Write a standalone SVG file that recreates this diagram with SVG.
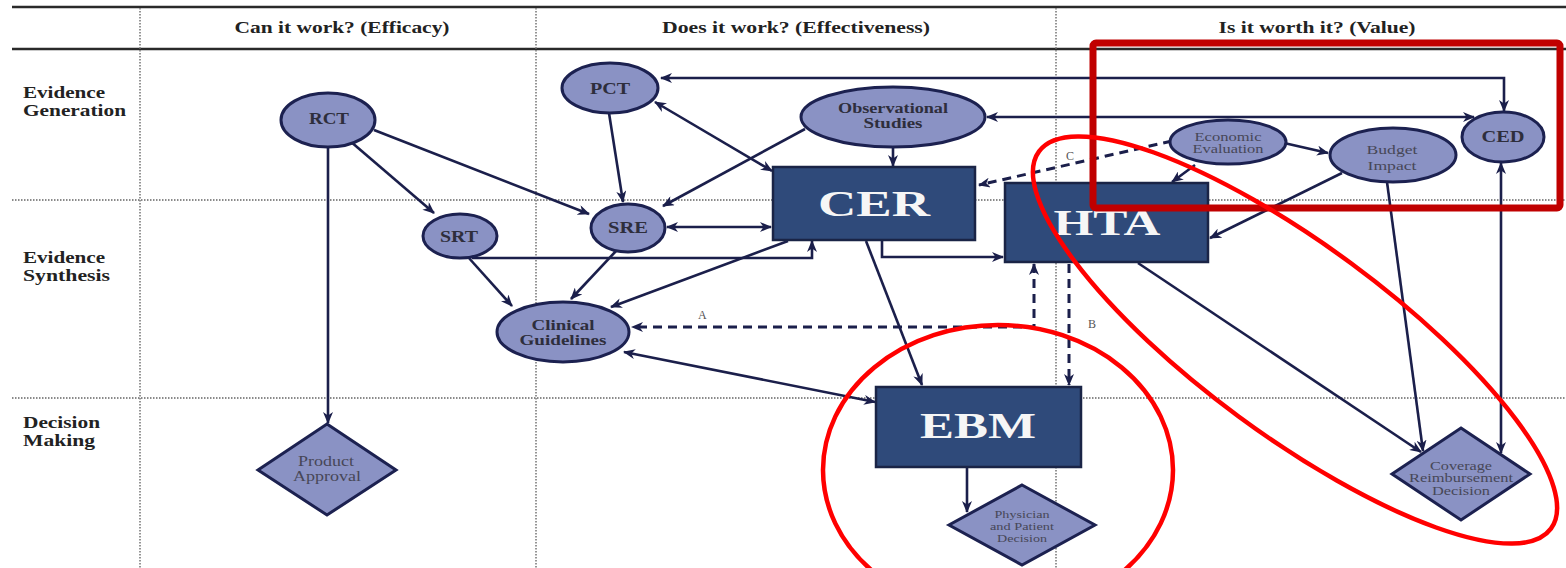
<svg xmlns="http://www.w3.org/2000/svg" width="1566" height="568" viewBox="0 0 1566 568">
<defs>
<marker id="ah" viewBox="0 0 12 10" refX="11" refY="5" markerWidth="13" markerHeight="10" markerUnits="userSpaceOnUse" orient="auto-start-reverse">
<path d="M0,0 L12,5 L0,10 L3.5,5 z" fill="#1b1f4b"/>
</marker>
</defs>
<style>
.grid{stroke:#8a8a8a;stroke-width:1.8;stroke-dasharray:1.5 1.5;fill:none}
.rule{stroke:#2a2a2a;stroke-width:2.5}
.hdr{font-family:"Liberation Serif",serif;font-weight:bold;font-size:16px;fill:#222;text-anchor:middle}
.row{font-family:"Liberation Serif",serif;font-weight:bold;font-size:16px;fill:#222}
.ell{fill:#8a92c4;stroke:#1c2150;stroke-width:3}
.box{fill:#2f4a7a;stroke:#1a2446;stroke-width:2.5}
.dia{fill:#8a92c4;stroke:#1c2150;stroke-width:3}
.t1{font-family:"Liberation Serif",serif;font-weight:bold;font-size:16px;fill:#2e2e3c;text-anchor:middle}
.t2{font-family:"Liberation Serif",serif;font-size:13px;fill:#474757;text-anchor:middle}
.big{font-family:"Liberation Serif",serif;font-weight:bold;font-size:36px;fill:#f6f6f6;text-anchor:middle}
.c{stroke:#1b1f4b;stroke-width:2.6;fill:none;marker-end:url(#ah)}
.cd{marker-start:url(#ah)}
.dash{stroke-dasharray:9 6;stroke-width:3}
.lab{font-family:"Liberation Serif",serif;font-size:12px;fill:#555}
.red{fill:none;stroke:#ff0000;stroke-width:4.5}
.redbox{fill:none;stroke:#c00000;stroke-width:7}
</style>
<rect x="0" y="0" width="1566" height="568" fill="#ffffff"/>
<g id="grid">
<line class="rule" x1="12" y1="7" x2="1566" y2="7"/>
<line class="rule" x1="12" y1="49" x2="1566" y2="49"/>
<line class="grid" x1="140" y1="8" x2="140" y2="568"/>
<line class="grid" x1="536" y1="8" x2="536" y2="568"/>
<line class="grid" x1="1056" y1="8" x2="1056" y2="568"/>
<line class="grid" x1="12" y1="200" x2="1566" y2="200"/>
<line class="grid" x1="12" y1="398" x2="1566" y2="398"/>
<text class="hdr" x="342" y="33" textLength="215" lengthAdjust="spacingAndGlyphs">Can it work? (Efficacy)</text>
<text class="hdr" x="796" y="33" textLength="268" lengthAdjust="spacingAndGlyphs">Does it work? (Effectiveness)</text>
<text class="hdr" x="1317" y="33" textLength="197" lengthAdjust="spacingAndGlyphs">Is it worth it? (Value)</text>
<text class="row" x="23" y="98" textLength="82" lengthAdjust="spacingAndGlyphs">Evidence</text>
<text class="row" x="23" y="116" textLength="103" lengthAdjust="spacingAndGlyphs">Generation</text>
<text class="row" x="23" y="263" textLength="82" lengthAdjust="spacingAndGlyphs">Evidence</text>
<text class="row" x="23" y="281" textLength="87" lengthAdjust="spacingAndGlyphs">Synthesis</text>
<text class="row" x="23" y="428" textLength="77" lengthAdjust="spacingAndGlyphs">Decision</text>
<text class="row" x="23" y="446" textLength="72" lengthAdjust="spacingAndGlyphs">Making</text>
</g>
<g id="connectors">
<path class="c" d="M328,147 L328,423"/>
<path class="c" d="M350,141 L434,213"/>
<path class="c" d="M374,130 L589,214"/>
<path class="c" d="M609,113 L623,202"/>
<path class="c cd" d="M655,102 L772,171"/>
<path class="c" d="M805,129 L663,206"/>
<path class="c" d="M893,147 L893,166"/>
<path class="c cd" d="M667,227 L771,227"/>
<path class="c" d="M472,258 L812,258 L812,241"/>
<path class="c" d="M468,257 L512,306"/>
<path class="c" d="M616,251 L571,299"/>
<path class="c" d="M788,241 L611,307"/>
<path class="c" d="M866,241 L922,385"/>
<path class="c" d="M882,241 L882,257 L1003,257"/>
<path class="c cd dash" d="M1034,264 L1034,327 L632,327"/>
<path class="c dash" d="M1069,264 L1069,385"/>
<path class="c dash" d="M1172,141 L979,185"/>
<path class="c" d="M1195,165 L1172,182"/>
<path class="c" d="M1284,143 L1328,153"/>
<path class="c" d="M1342,173 L1210,238"/>
<path class="c" d="M1387,182 L1423,451"/>
<path class="c" d="M1138,263 L1421,452"/>
<path class="c cd" d="M1501,163 L1501,453"/>
<path class="c cd" d="M661,78 L1504,78 L1504,111"/>
<path class="c cd" d="M987,117 L1474,117"/>
<path class="c cd" d="M624,352 L875,402"/>
<path class="c" d="M967,467 L967,512"/>
<text class="lab" x="698" y="319">A</text>
<text class="lab" x="1088" y="328">B</text>
<text class="lab" x="1066" y="160">C</text>
</g>
<g id="RCT"><ellipse class="ell" cx="328" cy="120" rx="47" ry="27"/><text class="t1" x="329" y="124" textLength="40" lengthAdjust="spacingAndGlyphs">RCT</text></g>
<g id="PCT"><ellipse class="ell" cx="610" cy="88" rx="48" ry="25"/><text class="t1" x="610" y="94" textLength="40" lengthAdjust="spacingAndGlyphs">PCT</text></g>
<g id="ObservationalStudies"><ellipse class="ell" cx="893" cy="117" rx="92" ry="30"/><text class="t1" style="font-size:15px" x="893" y="113" textLength="110" lengthAdjust="spacingAndGlyphs">Observational</text><text class="t1" style="font-size:15px" x="893" y="128" textLength="59" lengthAdjust="spacingAndGlyphs">Studies</text></g>
<g id="SRT"><ellipse class="ell" cx="460" cy="236" rx="37" ry="22"/><text class="t1" x="459" y="242" textLength="38" lengthAdjust="spacingAndGlyphs">SRT</text></g>
<g id="SRE"><ellipse class="ell" cx="628" cy="228" rx="37" ry="24"/><text class="t1" x="628" y="233" textLength="40" lengthAdjust="spacingAndGlyphs">SRE</text></g>
<g id="ClinicalGuidelines"><ellipse class="ell" cx="563" cy="332" rx="66" ry="30"/><text class="t1" style="font-size:15px" x="563" y="330" textLength="63" lengthAdjust="spacingAndGlyphs">Clinical</text><text class="t1" style="font-size:15px" x="563" y="345" textLength="87" lengthAdjust="spacingAndGlyphs">Guidelines</text></g>
<g id="CER"><rect class="box" x="773" y="167" width="202" height="73"/><text class="big" x="874" y="216" textLength="112" lengthAdjust="spacingAndGlyphs">CER</text></g>
<g id="HTA"><rect class="box" x="1005" y="183" width="203" height="79"/><text class="big" x="1107" y="235" textLength="107" lengthAdjust="spacingAndGlyphs">HTA</text></g>
<g id="EBM"><rect class="box" x="876" y="387" width="205" height="80"/><text class="big" x="978" y="438" textLength="116" lengthAdjust="spacingAndGlyphs">EBM</text></g>
<g id="EconomicEvaluation"><ellipse class="ell" cx="1228" cy="142" rx="58" ry="22"/><text class="t2" style="font-size:12px" x="1228" y="141" textLength="67" lengthAdjust="spacingAndGlyphs">Economic</text><text class="t2" style="font-size:12px" x="1228" y="153" textLength="71" lengthAdjust="spacingAndGlyphs">Evaluation</text></g>
<g id="BudgetImpact"><ellipse class="ell" cx="1393" cy="155" rx="63" ry="27"/><text class="t2" x="1392" y="154" textLength="51" lengthAdjust="spacingAndGlyphs">Budget</text><text class="t2" x="1392" y="170" textLength="49" lengthAdjust="spacingAndGlyphs">Impact</text></g>
<g id="CED"><ellipse class="ell" cx="1503" cy="137" rx="41" ry="25"/><text class="t1" x="1503" y="142" textLength="43" lengthAdjust="spacingAndGlyphs">CED</text></g>
<g id="ProductApproval"><polygon class="dia" points="327,424 396,470 327,515 258,470"/><text class="t2" style="font-size:14px" x="326" y="466" textLength="56" lengthAdjust="spacingAndGlyphs">Product</text><text class="t2" style="font-size:14px" x="327" y="481" textLength="68" lengthAdjust="spacingAndGlyphs">Approval</text></g>
<g id="CoverageReimbursementDecision"><polygon class="dia" points="1461,428 1530,474 1461,520 1392,474"/><text class="t2" x="1461" y="470" textLength="62" lengthAdjust="spacingAndGlyphs">Coverage</text><text class="t2" x="1461" y="482" textLength="104" lengthAdjust="spacingAndGlyphs">Reimbursement</text><text class="t2" x="1461" y="495" textLength="58" lengthAdjust="spacingAndGlyphs">Decision</text></g>
<g id="PhysicianPatientDecision"><polygon class="dia" points="1022,485 1095,525 1022,565 949,525"/><text class="t2" style="font-size:11px" x="1022" y="518" textLength="55" lengthAdjust="spacingAndGlyphs">Physician</text><text class="t2" style="font-size:11px" x="1022" y="530" textLength="64" lengthAdjust="spacingAndGlyphs">and Patient</text><text class="t2" style="font-size:11px" x="1022" y="542" textLength="50" lengthAdjust="spacingAndGlyphs">Decision</text></g>
<g id="annotations">
<rect class="redbox" x="1093" y="43" width="467" height="165" rx="3"/>
<ellipse class="red" cx="998" cy="470" rx="175" ry="145"/>
<ellipse class="red" cx="1295" cy="340" rx="318" ry="95" transform="rotate(36.4 1295 340)"/>
</g>
</svg>
